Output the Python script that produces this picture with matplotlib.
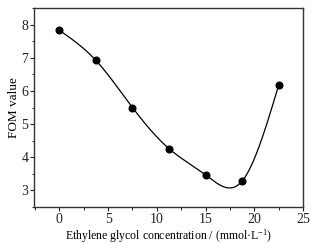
import numpy as np
import matplotlib
matplotlib.use("Agg")
import matplotlib.pyplot as plt
from matplotlib.ticker import MultipleLocator

plt.rcParams['font.family'] = ['Liberation Serif', 'DejaVu Serif']
plt.rcParams['mathtext.fontset'] = 'custom'
plt.rcParams['mathtext.rm'] = 'Liberation Serif'
plt.rcParams['mathtext.it'] = 'Liberation Serif:italic'

# concentration of ethylene glycol (mmol/L) and FOM value
conc = [0, 3.75, 7.5, 11.25, 15, 18.75, 22.5]
fom = [7.83, 6.92, 5.50, 4.26, 3.47, 3.28, 6.17]


def natural_spline(x, y, n=300):
    """Natural cubic spline through the points, for the smooth guide line."""
    x = np.asarray(x, float)
    y = np.asarray(y, float)
    k = len(x)
    h = np.diff(x)
    A = np.zeros((k, k))
    b = np.zeros(k)
    A[0, 0] = A[-1, -1] = 1
    for i in range(1, k - 1):
        A[i, i - 1] = h[i - 1]
        A[i, i] = 2 * (h[i - 1] + h[i])
        A[i, i + 1] = h[i]
        b[i] = 6 * ((y[i + 1] - y[i]) / h[i] - (y[i] - y[i - 1]) / h[i - 1])
    m = np.linalg.solve(A, b)
    xs = np.linspace(x[0], x[-1], n)
    idx = np.clip(np.searchsorted(x, xs) - 1, 0, k - 2)
    x0, x1 = x[idx], x[idx + 1]
    hh = x1 - x0
    t0, t1 = x1 - xs, xs - x0
    ys = (m[idx] * t0 ** 3 + m[idx + 1] * t1 ** 3) / (6 * hh) \
        + (y[idx] / hh - m[idx] * hh / 6) * t0 \
        + (y[idx + 1] / hh - m[idx + 1] * hh / 6) * t1
    return xs, ys


fig = plt.figure(figsize=(3.21, 2.43), dpi=100)
ax = fig.add_axes([34 / 321, 1 - 207 / 243, 269 / 321, 199 / 243])

xs, ys = natural_spline(conc, fom)
ax.plot(xs, ys, color='black', lw=0.9)
ax.plot(conc, fom, 'o', color='black', ms=4.8)

ax.set_xlim(-2.6, 25)
ax.set_ylim(2.5, 8.5)
ax.xaxis.set_major_locator(MultipleLocator(5))
ax.xaxis.set_minor_locator(MultipleLocator(2.5))
ax.yaxis.set_major_locator(MultipleLocator(1))
ax.yaxis.set_minor_locator(MultipleLocator(0.5))
ax.tick_params(which='major', direction='out', length=3, width=0.8,
               labelsize=10, pad=1, colors='#222222')
ax.tick_params(which='minor', direction='out', length=1.8, width=0.7, colors='#222222')

for sp in ax.spines.values():
    sp.set_linewidth(1.0)
    sp.set_color('#333333')

ax.set_xlabel('Ethylene glycol concentration / (mmol·L$^{-1}$)', fontsize=8.5, labelpad=1)
ax.set_ylabel('FOM value', fontsize=9.5, labelpad=1)

fig.savefig('out.png', dpi=100)
